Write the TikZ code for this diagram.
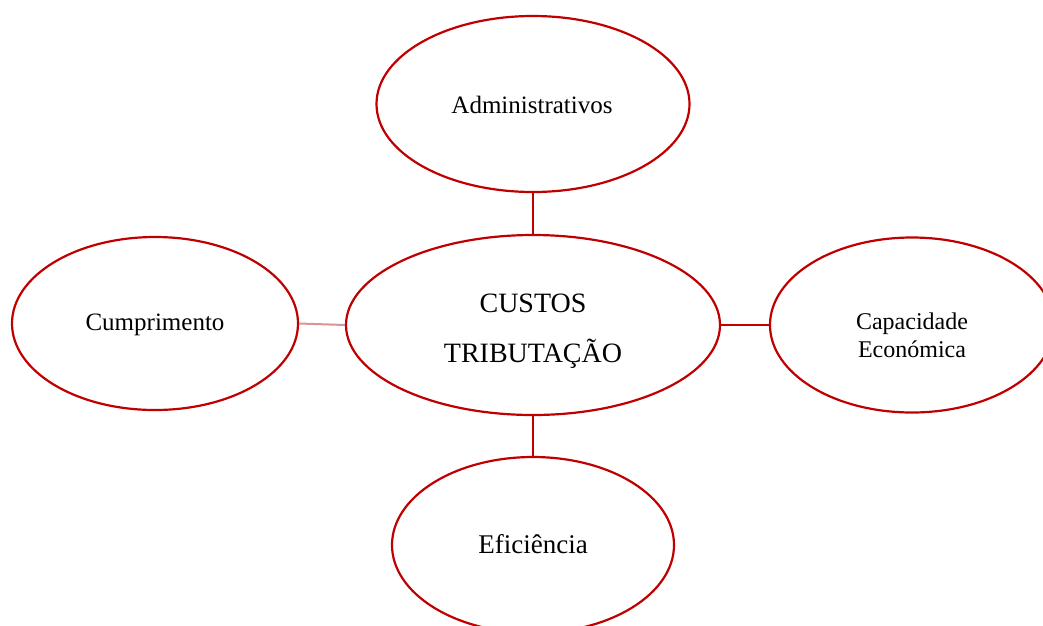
\documentclass[tikz,border=0pt]{standalone}
\usepackage{fontspec}
\setmainfont{Liberation Serif}
\usetikzlibrary{shapes.geometric}
\definecolor{ellred}{RGB}{192,0,0}
\definecolor{linkpink}{RGB}{218,150,150}
\tikzset{
  bubble/.style={draw=ellred, line width=2.2pt, ellipse, inner sep=0pt},
  lbl/.style={inner sep=0pt, align=center, text=black},
  link/.style={draw=ellred, line width=2pt},
}
\begin{document}
\begin{tikzpicture}[x=1pt,y=-1pt]
\useasboundingbox (0,0) rectangle (1043,625);
\clip (0,0) rectangle (1043,625);
\fill[white] (0,0) rectangle (1043,625);
% ellipses
\node[bubble, minimum width=313pt, minimum height=176pt] (adm) at (533,104) {};
\node[bubble, minimum width=374pt, minimum height=180pt] (ct) at (533,325) {};
\node[bubble, minimum width=286pt, minimum height=173pt] (cum) at (155,323.5) {};
\node[bubble, minimum width=284pt, minimum height=175pt] (cap) at (912,325) {};
\node[bubble, minimum width=282pt, minimum height=176pt] (efi) at (533,545) {};
% labels
\node[lbl, anchor=base, font=\fontsize{25}{30}\selectfont] (tadm) at (532,113) {Administrativos};
\node[lbl, anchor=base, font=\fontsize{25}{30}\selectfont] (tcum) at (155,330) {Cumprimento};
\node[lbl, anchor=base, font=\fontsize{27}{30}\selectfont] (tefi) at (533,553) {Eficiência};
\node[lbl, font=\fontsize{28}{50}\selectfont] (tct) at (533,331.5) {CUSTOS\\TRIBUTAÇÃO};
\node[lbl, font=\fontsize{24}{28}\selectfont] (tcap) at (912,335) {Capacidade\\Económica};
% connectors
\draw[link] (adm.south) -- (ct.north);
\draw[link] (ct.south) -- (efi.north);
\draw[link] (ct.east) -- (cap.west);
\draw[link, draw=linkpink] (cum.east) -- (ct.west);
\end{tikzpicture}
\end{document}
